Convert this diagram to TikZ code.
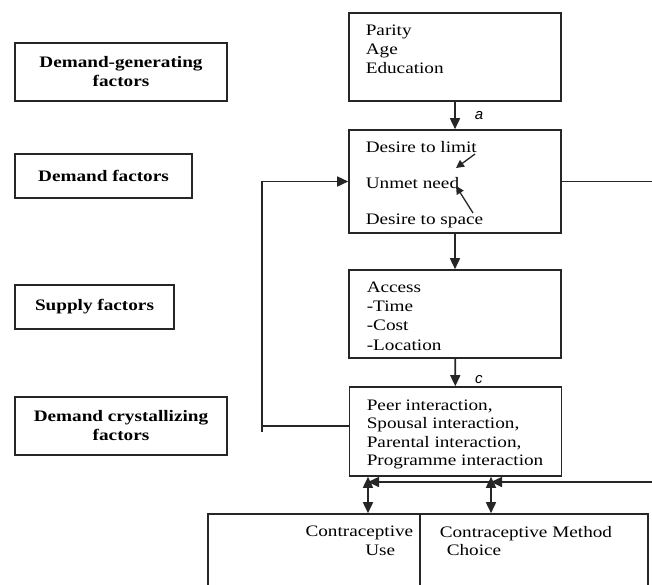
\documentclass[tikz,border=0pt]{standalone}
\usepackage{fontspec}
\setmainfont{Liberation Serif}[FakeStretch=1.2]
\setsansfont{Liberation Sans}
\usetikzlibrary{positioning,arrows.meta,calc}

\begin{document}
\begin{tikzpicture}[x=1pt,y=-1pt,>={Triangle[length=11pt,width=10pt]},
  line width=1.6pt,draw=black!85,
  every node/.style={font=\fontsize{16}{19}\selectfont},
  factor/.style={draw,line width=1.6pt,inner sep=0pt,align=center,
                 font=\bfseries\fontsize{16}{19}\selectfont},
  stage/.style={draw,line width=1.6pt,minimum width=212pt,inner sep=0pt},
  item/.style={anchor=base west,inner sep=0pt},
  lab/.style={font=\sffamily\itshape\fontsize{15}{17}\selectfont,inner sep=0pt}]

  \useasboundingbox (0,0) rectangle (652,584);

  % factor boxes on the left
  \node[factor,minimum width=212pt,minimum height=58pt] (gen) at (121,72)
    {Demand-generating\\factors};
  \node[factor,minimum width=177pt,minimum height=44pt] (dem) at (103.5,176)
    {Demand factors};
  \node[factor,minimum width=159pt,minimum height=44pt] (sup) at (94.5,307)
    {Supply factors};
  \node[factor,minimum width=212pt,minimum height=58pt] (cry) at (121,426)
    {Demand crystallizing\\factors};

  % stages on the right
  \node[stage,minimum height=88pt] (par) at (455,57) {};
  \foreach \t/\y in {Parity/35, Age/54, Education/73}
    \node[item] at (365,\y) {\t};

  \node[stage,minimum height=103pt] (des) at (455,181.5) {};
  \node[item] (lim) at (365,152) {Desire to limit};
  \node[item] (unmet) at (365,188) {Unmet need};
  \node[item] (spc) at (365,224) {Desire to space};

  \node[stage,minimum height=88pt] (acc) at (455,314) {};
  \foreach \t/\y in {Access/292, -Time/311, -Cost/330, -Location/350}
    \node[item] at (366,\y) {\t};

  \node[stage,minimum height=89pt] (peer) at (455.5,431.5) {};
  \foreach \t/\y in {{Peer interaction,}/410, {Spousal interaction,}/428,
                     {Parental interaction,}/447, {Programme interaction}/465}
    \node[item] at (366,\y) {\t};

  % outcome boxes (cut off at the bottom)
  \node[draw,minimum width=212pt,minimum height=80pt] (cu) at (314,554) {};
  \node[draw,minimum width=228pt,minimum height=80pt] (mc) at (534,554) {};
  \node[anchor=base east,inner sep=0pt,align=right] (cut) at (414,555)
    {Contraceptive\\Use\hspace*{18pt}};
  \node[item] (mct1) at (439,537) {Contraceptive Method};
  \node[item] (mct2) at (446,555) {Choice};

  % main chain
  \draw[->] (par) -- node[lab,right=19pt] {a} (des);
  \draw[->] (des) -- (acc);
  \draw[->] (acc) -- node[lab,pos=0.75,right=19pt] {c} (peer);

  % arrows onto unmet need
  \coordinate (l1) at (475,154);
  \coordinate (l2) at (456,168);
  \coordinate (s1) at (473,213);
  \coordinate (s2) at (456,186);
  \draw[-{Triangle[length=8pt,width=8pt]},line width=1.3pt] (l1) -- (l2);
  \draw[-{Triangle[length=8pt,width=8pt]},line width=1.3pt] (s1) -- (s2);

  % feedback on the left
  \coordinate (fbl) at (262,426);
  \draw (peer.west |- fbl) -- (fbl);
  \draw[->] ($(fbl)+(0,6)$) |- (des.west);

  % feedback on the right
  \coordinate (u1) at (368,0);
  \coordinate (u2) at (491,0);
  \coordinate (fbr) at (656,482);
  \draw (des.east) -| (fbr);
  \draw[->] (fbr) -- (u2 |- fbr);
  \draw[->] (u2 |- fbr) -- (u1 |- fbr);

  % to and from the outcomes
  \draw[<->] (u1 |- peer.south) -- (u1 |- cu.north);
  \draw[<->] (u2 |- peer.south) -- (u2 |- mc.north);

\end{tikzpicture}
\end{document}
